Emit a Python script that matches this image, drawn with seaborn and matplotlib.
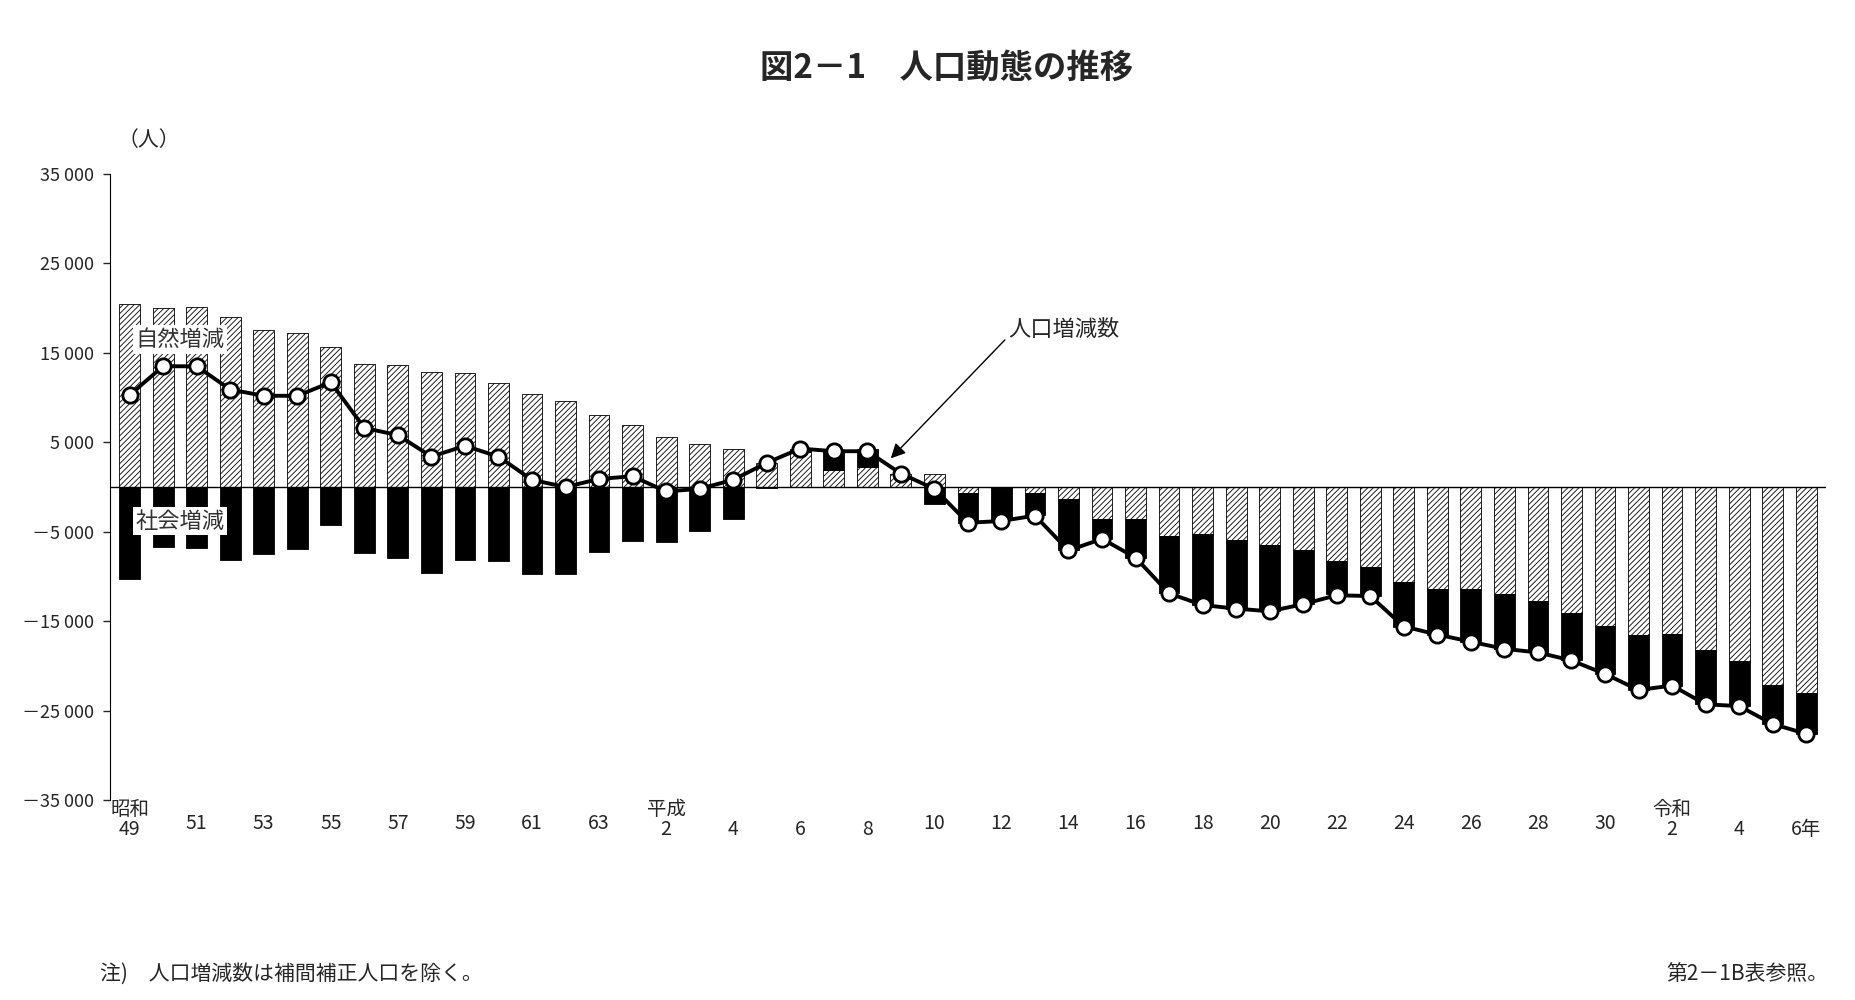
import numpy as np
import pandas as pd
import matplotlib
matplotlib.use('Agg')
import matplotlib.pyplot as plt
import seaborn as sns

# 昭和49年〜令和6年（51年分）
years = list(range(49, 64)) + list(range(1, 31)) + list(range(1, 7))
natural = [20.5, 20.0, 20.1, 19.0, 17.6, 17.2, 15.7, 13.8, 13.6, 12.9, 12.7, 11.6, 10.4, 9.6, 8.1,
           6.9, 5.6, 4.8, 4.3, 2.7, 3.9, 1.9, 2.2, 1.5, 1.5,
           -0.7, -0.1, -0.7, -1.3, -3.6, -3.6, -5.5, -5.2, -5.9, -6.5, -7.1, -8.3, -9.0,
           -10.6, -11.4, -11.4, -12.0, -12.7, -14.1, -15.5,
           -16.5, -16.4, -18.2, -19.5, -22.1, -23.0]
social = [-10.3, -6.7, -6.8, -8.2, -7.5, -6.9, -4.2, -7.4, -7.9, -9.6, -8.2, -8.3, -9.7, -9.7, -7.3,
          -6.0, -6.2, -4.9, -3.6, -0.1, 0.4, 2.2, 2.0, 0.0, -1.9,
          -3.3, -3.6, -2.4, -5.7, -2.2, -4.3, -6.4, -8.0, -7.7, -7.4, -6.0, -3.7, -3.2,
          -5.1, -5.1, -5.9, -6.1, -5.8, -5.3, -5.4,
          -6.2, -5.8, -6.1, -5.0, -4.4, -4.6]
total = [10.3, 13.5, 13.5, 10.9, 10.2, 10.2, 11.7, 6.6, 5.8, 3.4, 4.6, 3.4, 0.8, 0.0, 0.9,
         1.2, -0.5, -0.2, 0.8, 2.7, 4.3, 4.0, 4.0, 1.5, -0.2,
         -4.0, -3.8, -3.2, -7.1, -5.8, -7.9, -11.9, -13.2, -13.6, -13.9, -13.1, -12.1, -12.2,
         -15.6, -16.5, -17.3, -18.1, -18.5, -19.4, -20.9,
         -22.7, -22.2, -24.3, -24.5, -26.5, -27.6]

df = pd.DataFrame({'idx': np.arange(len(years)),
                   'natural': np.array(natural) * 1000,
                   'social': np.array(social) * 1000,
                   'total': np.array(total) * 1000})

sns.set_style('white')
plt.rcParams['font.family'] = ['Noto Sans CJK JP', 'DejaVu Sans']
plt.rcParams['hatch.linewidth'] = 0.6

fig = plt.figure(figsize=(18.56, 10), dpi=100)
ax = fig.add_axes([0.059, 0.2, 0.925, 0.626])

# 積み上げ（符号ごとに基準を分ける）
nat = df['natural'].values
soc = df['social'].values
nat_bottom = np.zeros(len(df))
soc_bottom = np.where((soc >= 0) & (nat >= 0), nat, 0)
soc_bottom = np.where((soc < 0) & (nat < 0), nat, soc_bottom)
w = 0.62
ax.bar(df['idx'], nat, bottom=nat_bottom, width=w, color='white', edgecolor='black',
       hatch='//////', linewidth=0.6, zorder=2)
ax.bar(df['idx'], soc, bottom=soc_bottom, width=w, color='black', edgecolor='black',
       linewidth=0.6, zorder=2)

sns.lineplot(data=df, x='idx', y='total', ax=ax, color='black', linewidth=2.8,
             marker='o', markersize=11, markerfacecolor='white', markeredgecolor='black',
             markeredgewidth=2, zorder=4)

ax.axhline(0, color='black', linewidth=1, zorder=3)
ax.set_xlim(-0.6, len(df) - 0.4)
ax.set_ylim(-35000, 35000)
yt = [35000, 25000, 15000, 5000, -5000, -15000, -25000, -35000]
ax.set_yticks(yt)
ax.set_yticklabels([(f'{v:,}'.replace(',', ' ') if v > 0 else '－' + f'{-v:,}'.replace(',', ' ')) for v in yt],
                   fontsize=13)
ax.tick_params(axis='y', direction='out', length=5, width=1, left=True, pad=6)
ax.set_xticks([])
ax.set_xlabel('')
ax.set_ylabel('')
for s in ['top', 'right', 'bottom']:
    ax.spines[s].set_visible(False)
ax.spines['left'].set_color('black')

# x軸ラベル
era_start = {0: '昭和', 16: '平成', 46: '令和'}
for i, y in enumerate(years):
    if i % 2 != 0:
        continue
    lab = str(y) + ('年' if i == len(years) - 1 else '')
    lower = i == 0 or 16 <= i <= 22 or i >= 46
    ax.text(i, -38300 if lower else -37600, lab, ha='center', va='center', fontsize=14)
for i, e in era_start.items():
    ax.text(i, -36100, e, ha='center', va='center', fontsize=14)

ax.text(1.5, 16500, '自然増減', ha='center', va='center', fontsize=16, color='#333333',
        bbox=dict(facecolor='white', edgecolor='none', pad=2), zorder=5)
ax.text(1.5, -3800, '社会増減', ha='center', va='center', fontsize=16, color='#333333',
        bbox=dict(facecolor='white', edgecolor='none', pad=2), zorder=5)
ax.annotate('人口増減数', xy=(22.7, 3200), xytext=(26.2, 17600), fontsize=16, va='center',
            ha='left', arrowprops=dict(arrowstyle='-|>', color='black', lw=1, mutation_scale=22,
                                       shrinkA=0, shrinkB=0, relpos=(0, 0.2)), zorder=6)

fig.text(0.08, 0.86, '（人）', fontsize=15, ha='center', va='center')
fig.text(0.51, 0.932, '図2－1　人口動態の推移', fontsize=24, fontweight='bold', ha='center', va='center')
fig.text(0.054, 0.015, '注)　人口増減数は補間補正人口を除く。', fontsize=15, ha='left', va='bottom')
fig.text(0.985, 0.015, '第2－1B表参照。', fontsize=15, ha='right', va='bottom')

fig.savefig('out.png', dpi=100)
